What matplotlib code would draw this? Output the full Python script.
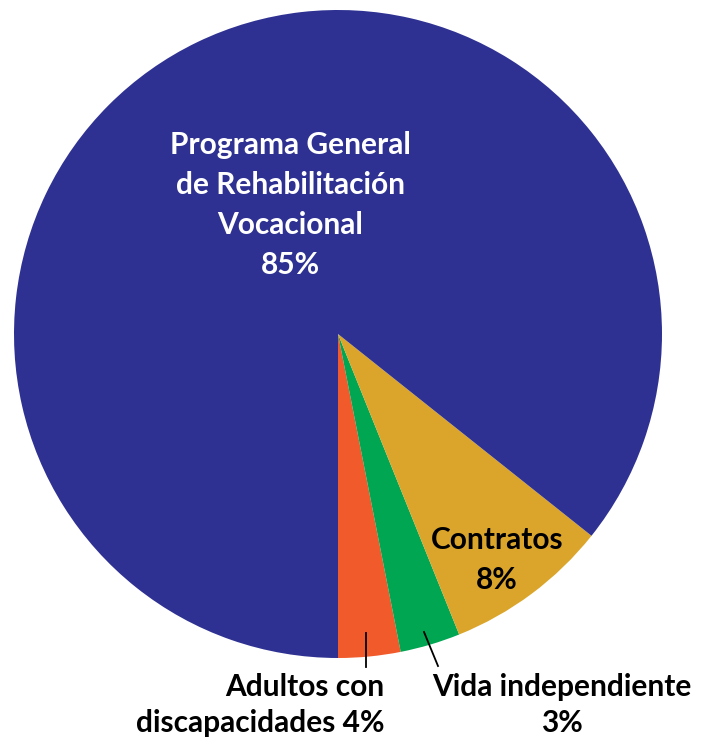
import matplotlib
matplotlib.use("Agg")
import matplotlib.pyplot as plt

categories = ["Adultos con discapacidades", "Vida independiente", "Contratos",
              "Programa General de Rehabilitación Vocacional"]
# wedge sizes as drawn in the picture (percent)
values = [3.1, 3.0, 8.2, 85.7]
# percentages as printed on the labels
label_pcts = ["4%", "3%", "8%", "85%"]
colors = ["#F15A2B", "#00A651", "#DAA52A", "#2E3192"]

W, H = 712, 741
fig = plt.figure(figsize=(W / 100, H / 100), dpi=100)
ax = fig.add_axes([0, 0, 1, 1])
cx, cy, R = 338, 334, 324
ax.pie(values, colors=colors, startangle=-90, counterclock=True,
       radius=1, center=(0, 0), wedgeprops=dict(linewidth=0))
ax.set_xlim(-cx / R, (W - cx) / R)
ax.set_ylim(-(H - cy) / R, cy / R)
ax.set_aspect("auto")
ax.axis("off")

font = dict(family=["Lato", "DejaVu Sans"], fontweight="bold")
fs = 21.5

def ftxt(px, py, s, color="black", ha="center", ls=1.5, **kw):
    fig.text(px / W, 1 - py / H, s, color=color, ha=ha, va="center",
             fontsize=fs, linespacing=ls, **font, **kw)

ftxt(290, 205, "Programa General\nde Rehabilitación\nVocacional\n" + label_pcts[3],
     color="white", ls=1.52)
ftxt(497, 560, "Contratos\n" + label_pcts[2], ls=1.48)
ftxt(562, 705, "Vida independiente\n" + label_pcts[1], ls=1.36)
ftxt(384, 705, "Adultos con\ndiscapacidades " + label_pcts[0], ha="right",
     multialignment="right", ls=1.36)

def pline(p1, p2):
    fig.add_artist(plt.Line2D([p1[0] / W, p2[0] / W], [1 - p1[1] / H, 1 - p2[1] / H],
                              color="black", linewidth=1.3))

pline((366, 633), (366, 667))
pline((424, 632), (438, 666))

fig.savefig("out.png", dpi=100)
